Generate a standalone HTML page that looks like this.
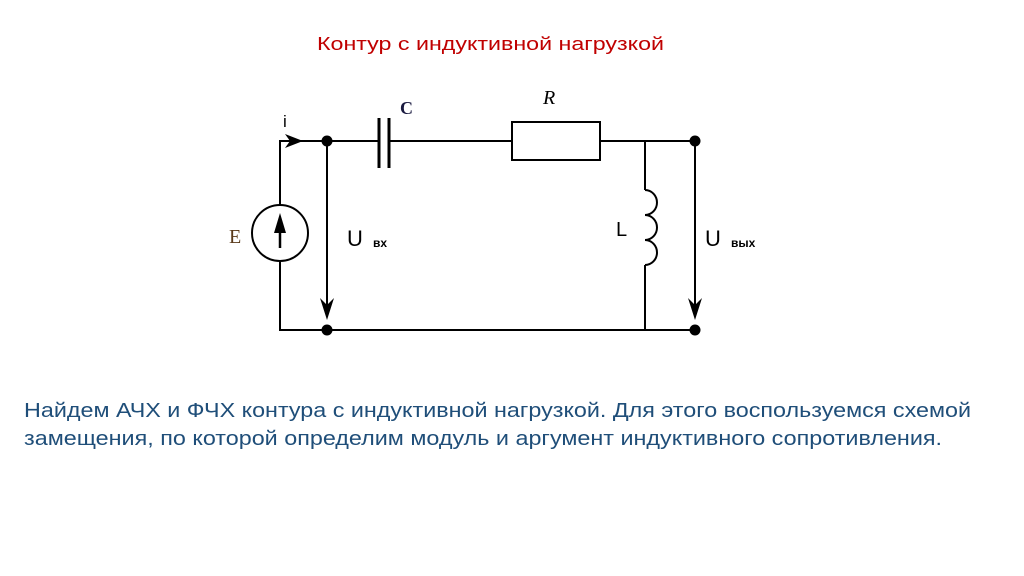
<!DOCTYPE html>
<html><head><meta charset="utf-8"><style>
html,body{margin:0;padding:0;background:#fff;}
svg{display:block;}
</style></head><body>
<svg width="1024" height="576" xmlns="http://www.w3.org/2000/svg" font-family="Liberation Sans, sans-serif">
<rect width="1024" height="576" fill="#fff"/>
<text x="317" y="50" font-size="18" fill="#c00000" textLength="347" lengthAdjust="spacingAndGlyphs">Контур с индуктивной нагрузкой</text>
<g stroke="#000" stroke-width="2" fill="none">
  <polyline points="280,205 280,141 378,141"/>
  <line x1="390" y1="141" x2="512" y2="141"/>
  <rect x="512" y="122" width="88" height="38"/>
  <line x1="600" y1="141" x2="695" y2="141"/>
  <line x1="379" y1="118" x2="379" y2="168" stroke-width="3"/>
  <line x1="389" y1="118" x2="389" y2="168" stroke-width="3"/>
  <circle cx="280" cy="233" r="28"/>
  <polyline points="280,261 280,330 695,330"/>
  <line x1="280" y1="248" x2="280" y2="225" stroke-width="2.5"/>
  <line x1="645" y1="141" x2="645" y2="190"/>
  <path d="M645,190 a12,12.5 0 0 1 0,25 a12,12.5 0 0 1 0,25 a12,12.5 0 0 1 0,25"/>
  <line x1="645" y1="265" x2="645" y2="330"/>
  <line x1="327" y1="141" x2="327" y2="310"/>
  <line x1="695" y1="141" x2="695" y2="310"/>
</g>
<polygon points="280,213 274,233 286,233" fill="#000"/>
<polygon points="303,141 285,134 290,141 285,148" fill="#000"/>
<polygon points="327,320 320,298 327,305 334,298" fill="#000"/>
<polygon points="695,320 688,298 695,305 702,298" fill="#000"/>
<g fill="#000">
  <circle cx="327" cy="141" r="5.5"/>
  <circle cx="695" cy="141" r="5.5"/>
  <circle cx="327" cy="330" r="5.5"/>
  <circle cx="695" cy="330" r="5.5"/>
</g>
<text x="283" y="127" font-size="17">i</text>
<text x="400" y="114" font-size="18" font-weight="bold" font-family="Liberation Serif, serif" fill="#1a1a40">C</text>
<text x="543" y="104" font-size="20" font-style="italic" font-family="Liberation Serif, serif">R</text>
<text x="229" y="243" font-size="20" font-family="Liberation Serif, serif" fill="#5a3a1a">E</text>
<text x="347" y="246" font-size="22">U</text>
<text x="373" y="247" font-size="12" font-weight="bold">вх</text>
<text x="705" y="246" font-size="22">U</text>
<text x="731" y="247" font-size="12" font-weight="bold">вых</text>
<text x="616" y="236" font-size="20">L</text>
<text x="24" y="417" font-size="20.5" fill="#1f4e79" textLength="947" lengthAdjust="spacingAndGlyphs">Найдем АЧХ и ФЧХ контура с индуктивной нагрузкой. Для этого воспользуемся схемой</text>
<text x="24" y="445" font-size="20.5" fill="#1f4e79" textLength="918" lengthAdjust="spacingAndGlyphs">замещения, по которой определим модуль и аргумент индуктивного сопротивления.</text>
</svg>
</body></html>
